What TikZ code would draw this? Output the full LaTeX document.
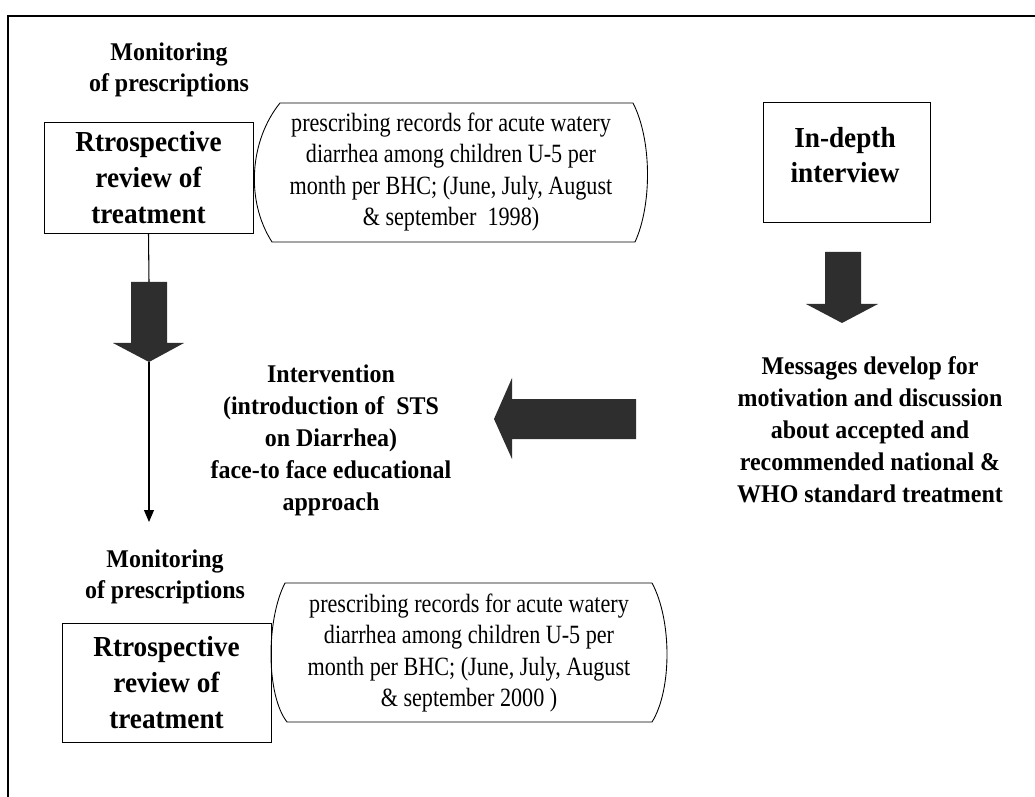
\documentclass[tikz,border=0pt]{standalone}
\usepackage{fontspec}
\setmainfont{Liberation Serif}
\newfontfamily\narrowfont[FakeStretch=0.84]{Liberation Serif}
\newfontfamily\heavyfont[FakeStretch=0.94]{Liberation Serif}
\usetikzlibrary{arrows.meta}

\begin{document}
\begin{tikzpicture}[x=0.02cm,y=-0.02cm,
    lbl/.style={align=center,font=\heavyfont\bfseries\fontsize{14.5}{17.5}\selectfont},
    txt/.style={align=center,font=\heavyfont\bfseries\fontsize{14.5}{18.2}\selectfont},
    revbox/.style={draw,line width=0.5pt,align=center,inner sep=0pt,
      font=\heavyfont\bfseries\fontsize{16.5}{20.7}\selectfont},
    boxtxt/.style={align=center,font=\heavyfont\bfseries\fontsize{16.5}{20.2}\selectfont},
    rec/.style={align=center,font=\narrowfont\fontsize{15}{18}\selectfont},
    scroll/.style={line width=0.5pt},
    blk/.style={fill=black!82,draw=none},
    thin/.style={line width=0.6pt}]

  \useasboundingbox (0,0) rectangle (1035,797);
  % frame, only top and left edge
  \draw[line width=1.2pt] (1035,16) -- (8,16) -- (8,797);

  % 1998 review
  \node[lbl] (mon1) at (169,70) {Monitoring\\of prescriptions};
  \node[revbox,minimum width=4.18cm,minimum height=2.22cm] (rev1) at (148.5,177.5)
    {Rtrospective\\review of\\treatment};
  \draw[scroll] (280,103) -- (633,103) .. controls (652,140) and (652,205) .. (635,242)
    -- (272,242) .. controls (245,200) and (250,140) .. (280,103) -- cycle;
  \node[rec] (rec1) at (451,172) {prescribing records for acute watery\\
    diarrhea among children U-5 per\\month per BHC; (June, July, August\\
    \& september\ \ 1998)};

  % interview
  \node[revbox,minimum width=3.34cm,minimum height=2.4cm] (intv) at (846.5,162) {};
  \node[boxtxt] (intvtxt) at (845,155) {In-depth\\interview};
  \fill[blk] (825,252) -- (861,252) -- (861,304) -- (878,304) -- (842,323)
    -- (806,304) -- (825,304) -- cycle;
  \node[txt] (msg) at (870,430) {Messages develop for\\motivation and discussion\\
    about accepted and\\recommended national \&\\WHO standard treatment};

  % intervention
  \fill[blk] (636,399) -- (636,439) -- (512,439) -- (512,459) -- (494,419)
    -- (512,378) -- (512,399) -- cycle;
  \node[txt] (interv) at (331,440) {Intervention\\(introduction of\ \ STS\\
    on Diarrhea)\\face-to face educational\\approach};

  % flow on the left
  \coordinate (blk1n) at (149,282);
  \coordinate (blk1s) at (149,362);
  \coordinate (tip1) at (149,522);
  \fill[blk] (131,282) -- (167,282) -- (167,343) -- (184,343) -- (149,362)
    -- (113,343) -- (131,343) -- cycle;
  \draw[thin] (rev1.south) -- (blk1n);
  \draw[thin,-{Triangle[length=2.4mm,width=2mm]}] (blk1s) -- (tip1);

  % 2000 review
  \node[lbl] (mon2) at (165,576.5) {Monitoring\\of prescriptions};
  \node[revbox,minimum width=4.18cm,minimum height=2.38cm] (rev2) at (166.5,682.5)
    {Rtrospective\\review of\\treatment};
  \draw[scroll] (285,583) -- (652,583) .. controls (672,620) and (672,690) .. (652,722)
    -- (287,722) .. controls (266,695) and (266,620) .. (285,583) -- cycle;
  \node[rec] (rec2) at (469,653) {prescribing records for acute watery\\
    diarrhea among children U-5 per\\month per BHC; (June, July, August\\
    \& september 2000 )};
\end{tikzpicture}
\end{document}
